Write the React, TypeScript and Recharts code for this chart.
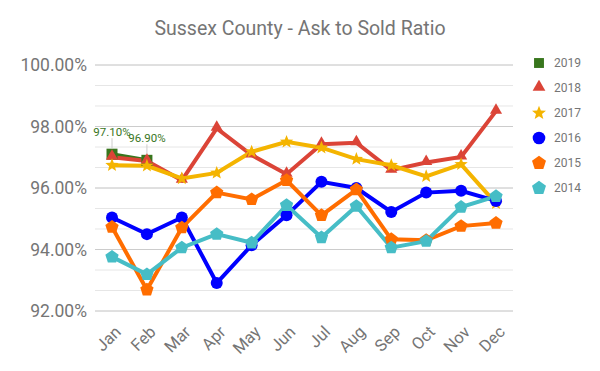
import React from "react"
import { CartesianGrid, LabelList, Line, LineChart, ReferenceLine, XAxis, YAxis } from "recharts"

const months = ["Jan", "Feb", "Mar", "Apr", "May", "Jun", "Jul", "Aug", "Sep", "Oct", "Nov", "Dec"]

const s2019 = [97.1, 96.9]
const s2018 = [97.0, 96.88, 96.25, 97.94, 97.07, 96.45, 97.42, 97.47, 96.58, 96.83, 97.01, 98.5]
const s2017 = [96.74, 96.72, 96.31, 96.49, 97.18, 97.5, 97.31, 96.94, 96.74, 96.38, 96.77, 95.5]
const s2016 = [95.04, 94.5, 95.04, 92.91, 94.14, 95.11, 96.2, 96.0, 95.22, 95.85, 95.91, 95.58]
const s2015 = [94.73, 92.69, 94.71, 95.85, 95.63, 96.25, 95.11, 95.95, 94.33, 94.3, 94.76, 94.86]
const s2014 = [93.76, 93.19, 94.06, 94.5, 94.22, 95.44, 94.39, 95.41, 94.06, 94.27, 95.38, 95.73]

const majorTicks = [92, 94, 96, 98, 100]
const gridTicks = [92, 92.667, 93.333, 94, 94.667, 95.333, 96, 96.667, 97.333, 98, 98.667, 99.333, 100]

const textGray = "#757575"

const series = [
  { key: "y2019", name: "2019", color: "#38761d", shape: "square" },
  { key: "y2018", name: "2018", color: "#db4437", shape: "triangle" },
  { key: "y2017", name: "2017", color: "#f4b400", shape: "star" },
  { key: "y2016", name: "2016", color: "#0000ff", shape: "circle" },
  { key: "y2015", name: "2015", color: "#ff6d00", shape: "pentagon" },
  { key: "y2014", name: "2014", color: "#46bdc6", shape: "pentagon" },
]

const data = months.map((m, i) => ({
  month: m,
  y2019: s2019[i] ?? null,
  y2018: s2018[i],
  y2017: s2017[i],
  y2016: s2016[i],
  y2015: s2015[i],
  y2014: s2014[i],
}))

function polyPoints(cx: number, cy: number, n: number, r: number, inner?: number) {
  const pts: string[] = []
  const count = inner ? n * 2 : n
  for (let k = 0; k < count; k++) {
    const rad = inner && k % 2 === 1 ? inner : r
    const a = -Math.PI / 2 + (k * 2 * Math.PI) / count
    pts.push(`${cx + rad * Math.cos(a)},${cy + rad * Math.sin(a)}`)
  }
  return pts.join(" ")
}

function Marker({ shape, cx, cy, color, size = 1 }: any) {
  if (cx == null || cy == null) return null
  if (shape === "square") {
    const s = 5.5 * size
    return <rect x={cx - s} y={cy - s} width={s * 2} height={s * 2} fill={color} />
  }
  if (shape === "triangle") {
    return <polygon points={polyPoints(cx, cy - 1, 3, 7 * size)} fill={color} />
  }
  if (shape === "star") {
    return <polygon points={polyPoints(cx, cy, 5, 7 * size, 3 * size)} fill={color} />
  }
  if (shape === "circle") {
    return <circle cx={cx} cy={cy} r={6 * size} fill={color} />
  }
  return <polygon points={polyPoints(cx, cy, 5, 7 * size)} fill={color} />
}

function makeDot(shape: string, color: string) {
  return (props: any) => {
    if (props.value == null) return <g key={props.index} />
    return <Marker key={props.index} shape={shape} cx={props.cx} cy={props.cy} color={color} />
  }
}

function XTick({ x, y, payload }: any) {
  const ax = x + 10
  const ay = y + 14
  return (
    <text
      x={ax}
      y={ay}
      transform={`rotate(-45, ${ax}, ${ay})`}
      textAnchor="end"
      fill={textGray}
      fontSize={16.5}
      fontFamily="Roboto"
    >
      {payload.value}
    </text>
  )
}

function DataLabel({ x, y, value }: any) {
  if (value == null) return null
  return (
    <g>
      <line x1={x} y1={y - 6} x2={x} y2={y - 16} stroke="#cccccc" strokeWidth={1} />
      <text x={x} y={y - 18} textAnchor="middle" fill="#38761d" fontSize={11.5} fontFamily="Roboto">
        {value.toFixed(2)}%
      </text>
    </g>
  )
}

function LegendBox() {
  return (
    <div style={{ fontFamily: "Roboto", fontSize: 12, color: textGray }}>
      {series.map((s) => (
        <div key={s.key} style={{ display: "flex", alignItems: "center", height: 25 }}>
          <svg width={16} height={16} style={{ marginRight: 7 }}>
            <Marker shape={s.shape} cx={8} cy={8} color={s.color} size={s.shape === "square" ? 0.9 : 1.05} />
          </svg>
          <span>{s.name}</span>
        </div>
      ))}
    </div>
  )
}

export default function App() {
  return (
    <div style={{ position: "absolute", left: 0, top: 0, width: 600, height: 371, background: "#fff" }}>
      <div
        style={{
          position: "absolute",
          top: 17,
          width: 600,
          textAlign: "center",
          fontFamily: "Roboto",
          fontSize: 19.5,
          color: textGray,
        }}
      >
        Sussex County - Ask to Sold Ratio
      </div>
      <div style={{ position: "absolute", left: 531, top: 50 }}>
        <LegendBox />
      </div>
      <LineChart width={600} height={371} data={data} margin={{ top: 65, right: 87, bottom: 10, left: 0 }}>
        <CartesianGrid vertical={false} stroke="#e6e6e6" />
        {majorTicks.map((t) => (
          <ReferenceLine key={t} y={t} stroke="#cccccc" />
        ))}
        <XAxis
          dataKey="month"
          interval={0}
          axisLine={false}
          tickLine={false}
          height={50}
          padding={{ left: 17, right: 17 }}
          tick={<XTick />}
        />
        <YAxis
          domain={[92, 100]}
          ticks={gridTicks}
          width={95}
          axisLine={false}
          tickLine={false}
          tickMargin={2}
          tick={{ fill: textGray, fontSize: 17.5, fontFamily: "Roboto" }}
          tickFormatter={(v: number) => (majorTicks.includes(v) ? `${v.toFixed(2)}%` : "")}
        />
        {series.map((s) => (
          <Line
            key={s.key}
            dataKey={s.key}
            name={s.name}
            stroke={s.color}
            strokeWidth={4}
            dot={makeDot(s.shape, s.color)}
            activeDot={false}
            isAnimationActive={false}
          >
            {s.key === "y2019" ? <LabelList dataKey="y2019" content={<DataLabel />} /> : null}
          </Line>
        ))}
      </LineChart>
    </div>
  )
}
